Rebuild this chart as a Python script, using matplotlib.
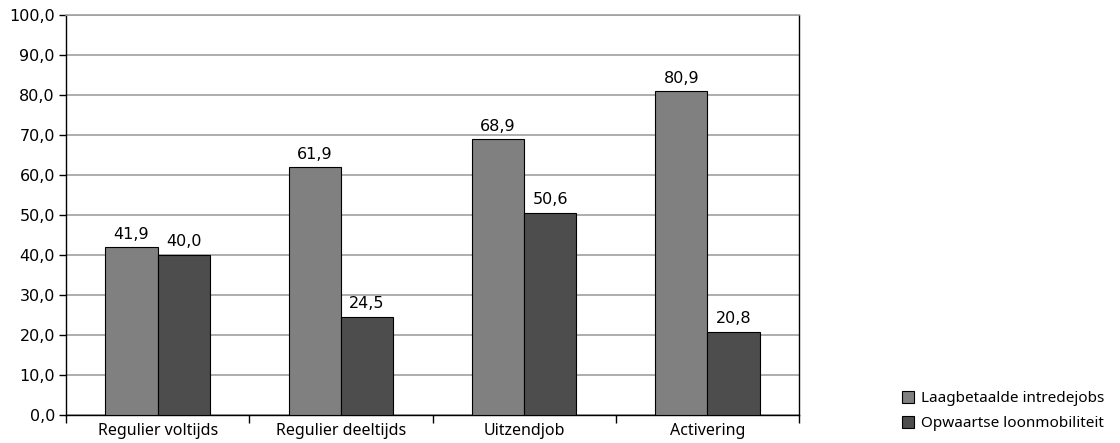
# Bar chart: laagbetaalde intredejobs vs opwaartse loonmobiliteit
import numpy as np
import matplotlib.pyplot as plt

# Data
Categories = ['Regulier voltijds', 'Regulier deeltijds', 'Uitzendjob', 'Activering']
Laagbetaald = [41.9, 61.9, 68.9, 80.9]
Opwaarts = [40.0, 24.5, 50.6, 20.8]
SeriesNames = ['Laagbetaalde intredejobs', 'Opwaartse loonmobiliteit']

LabelFont = ['Noto Sans', 'DejaVu Sans']

fig = plt.figure(figsize=(11.2, 4.43), dpi=100)
ax = fig.add_axes([66/1120, 28/443, 733/1120, 400/443])

x = np.arange(len(Categories))
w = 0.285
b1 = ax.bar(x - w/2, Laagbetaald, w, color='#808080', edgecolor='black', linewidth=0.8,
            label=SeriesNames[0], zorder=3)
b2 = ax.bar(x + w/2, Opwaarts, w, color='#4d4d4d', edgecolor='black', linewidth=0.8,
            label=SeriesNames[1], zorder=3)

# Value labels with decimal comma
for bars in (b1, b2):
    for r in bars:
        v = r.get_height()
        ax.annotate('{:.1f}'.format(v).replace('.', ','), (r.get_x() + r.get_width()/2, v),
                    xytext=(0, 4), textcoords='offset points', ha='center', va='bottom',
                    fontsize=11.5)

ax.set_xlim(-0.5, len(Categories) - 0.5)
ax.set_ylim(0, 100)
yt = np.arange(0, 101, 10)
ax.set_yticks(yt)
ax.set_yticklabels(['{:.1f}'.format(t).replace('.', ',') for t in yt], fontsize=11.5)
ax.yaxis.grid(True, color='#a0a0a0', linewidth=1.2, zorder=0)

# Category labels centred, ticks at boundaries
ax.set_xticks(np.arange(-0.5, len(Categories)), minor=False)
ax.set_xticklabels([])
ax.set_xticks(x, minor=True)
ax.set_xticklabels(Categories, minor=True, fontsize=11.5, family=LabelFont)
ax.tick_params(axis='x', which='minor', length=0, pad=6)
ax.tick_params(axis='x', which='major', length=6, width=1, direction='out')
ax.tick_params(axis='y', length=5, width=1, direction='out', pad=3)

ax.spines['top'].set_color('#a0a0a0')
ax.spines['top'].set_linewidth(1.2)
for s in ('left', 'bottom', 'right'):
    ax.spines[s].set_color('black')
    ax.spines[s].set_linewidth(1)

leg = fig.legend(handles=[b1, b2], loc='center left', bbox_to_anchor=(888/1120, 1 - 411/443),
                 frameon=False, prop={'family': LabelFont, 'size': 11},
                 handlelength=0.8, handleheight=0.8, handletextpad=0.45, labelspacing=0.65)

fig.savefig('out.png', dpi=100)
